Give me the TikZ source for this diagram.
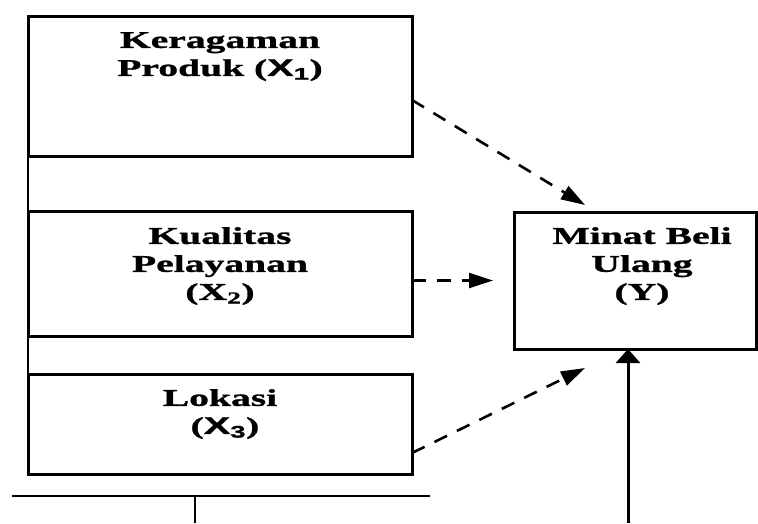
\documentclass[tikz,border=0pt]{standalone}
\usepackage{fontspec}
\setmainfont{Liberation Serif}[FakeStretch=1.65,BoldFeatures={FakeBold=1.2}]
\newfontfamily\sansx{Liberation Sans}[FakeStretch=1.65,BoldFeatures={FakeBold=1.2}]
\usetikzlibrary{arrows.meta,calc}

\tikzset{
 box/.style={draw,line width=3pt,rectangle,anchor=north west,inner sep=0pt,outer sep=0pt},
 lbl/.style={align=center,anchor=north,inner sep=0pt,font=\fontsize{24}{28}\selectfont\bfseries},
 dasharrow/.style={-{Triangle[length=24pt,width=15pt]},line width=2.6pt,dash pattern=on 14pt off 11pt},
 fullarrow/.style={-{Triangle[length=14pt,width=24pt]},line width=3pt},
}

\begin{document}
\begin{tikzpicture}[x=1pt,y=-1pt]
 \useasboundingbox (0,0) rectangle (758,523);
 % boxes
 \node[box,minimum width=384pt,minimum height=140pt] (x1) at (28,16) {};
 \node[box,minimum width=384pt,minimum height=125pt] (x2) at (28,211) {};
 \node[box,minimum width=384pt,minimum height=100pt] (x3) at (28,374) {};
 \node[box,minimum width=242pt,minimum height=137pt] (y) at (514,212) {};
 % labels
 \node[lbl] (t1) at (220,32) {Keragaman\\Produk ({\sansx X\textsubscript{1}})};
 \node[lbl] (t2) at (220,227) {Kualitas\\Pelayanan\\(X\textsubscript{2})};
 \node[lbl] (t3) at (220,389) {Lokasi\\~({\sansx X\textsubscript{3}})};
 \node[lbl] (ty) at (642,227) {Minat Beli\\Ulang\\(Y)};
 % lines
 \draw[line width=2pt] (x1.south west) -- (x3.north west);
 \draw[line width=1.5pt] (12,496) -- (430,496);
 \draw[line width=1.5pt] (195,496) -- (195,523);
 % arrows
 \draw[dasharrow] ($(x1.north east)+(0,84)$) -- ($(y.north west)+(71,-7)$);
 \draw[dasharrow] (x2.east |- y.west) -- ($(y.west)+(-21,0)$);
 \draw[dasharrow] ($(x3.north east)+(0,79)$) -- ($(y.south west)+(71,19)$);
 \coordinate (base) at (628,523);
 \draw[fullarrow] (base) -- (base |- y.south);
\end{tikzpicture}
\end{document}
